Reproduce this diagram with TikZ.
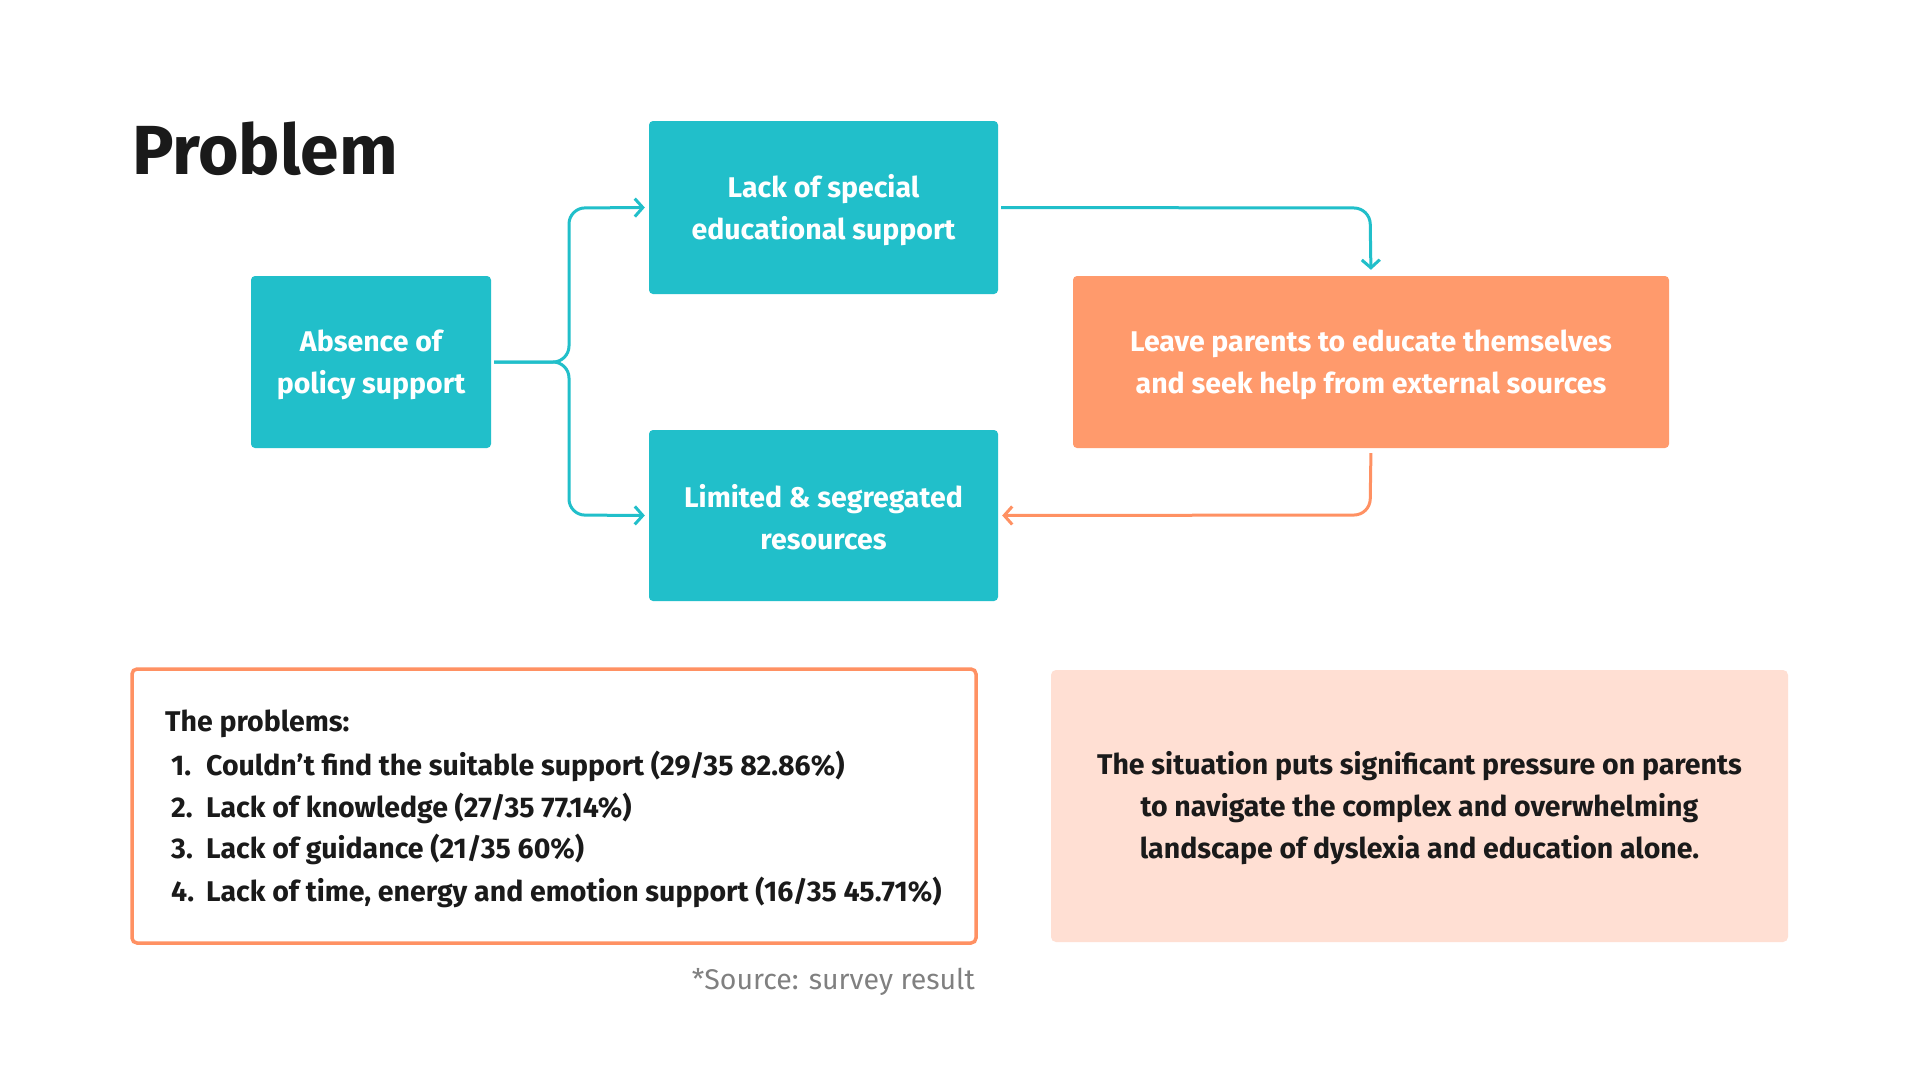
\documentclass[tikz,border=0pt]{standalone}
\usepackage{fontspec}
\setmainfont{Fira Sans}
\usetikzlibrary{arrows.meta}
\definecolor{teal}{HTML}{21BFCA}
\definecolor{orng}{HTML}{FF9A6C}
\definecolor{orngline}{HTML}{FF9163}
\definecolor{pinkbg}{HTML}{FFDFD3}
\definecolor{darktext}{HTML}{1A1A1A}
\definecolor{graytext}{HTML}{808080}
\newcommand{\boxfont}{\fontsize{28.5}{42}\selectfont\bfseries}
\newcommand{\numitem}[2]{\makebox[35pt][l]{#1}#2}
\tikzset{
  box/.style={rectangle, rounded corners=4pt, inner sep=0pt},
  boxtext/.style={inner sep=0pt, align=center, text=white, font=\boxfont},
  tealbox/.style={box, fill=teal},
  orngbox/.style={box, fill=orng},
  conn/.style={line width=3pt, rounded corners=16pt, -{Straight Barb[length=8pt,width=18pt,line width=3pt]}},
  body/.style={font=\boxfont, text=darktext, inner sep=0pt}
}
\begin{document}
\begin{tikzpicture}[x=1pt,y=-1pt]
\useasboundingbox (0,0) rectangle (1920,1080);
\fill[white] (0,0) rectangle (1920,1080);
\node[anchor=base west, inner sep=0pt, text=darktext, font=\fontsize{69.5}{80}\selectfont\bfseries] (title) at (132,174) {Problem};
\node[tealbox, minimum width=240pt, minimum height=172pt] (abs) at (371,362) {};
\node[boxtext] (abst) at (371,365) {Absence of\\policy support};
\node[tealbox, minimum width=349pt, minimum height=173pt] (lack) at (823.5,207.5) {};
\node[boxtext] (lackt) at (823.5,210.5) {Lack of special\\educational support};
\node[tealbox, minimum width=349pt, minimum height=171pt] (lim) at (823.5,515.5) {};
\node[boxtext] (limt) at (823.5,517.5) {Limited \& segregated\\resources};
\node[orngbox, minimum width=596pt, minimum height=172pt] (leave) at (1371,362) {};
\node[boxtext] (leavet) at (1371,365) {Leave parents to educate themselves\\and seek help from external sources};
\coordinate (j1) at (569,362);
\coordinate (cT) at (1370,208);
\coordinate (cB) at (1370,515);
\draw[conn, teal, shorten >=4pt, shorten <=3pt] (abs.east) -- (j1) -- (569,208) -- (lack.west);
\draw[conn, teal, shorten >=4pt, shorten <=3pt] (abs.east) -- (j1) -- (569,515) -- (lim.west);
\draw[conn, teal, shorten >=6pt, shorten <=3pt] (lack.east) -- (cT) -- (leave.north);
\draw[conn, orngline, shorten >=4pt, shorten <=5pt] (leave.south) -- (cB) -- (lim.east);
\node[draw=orngline, line width=3.5pt, rounded corners=5pt, minimum width=844pt, minimum height=274pt, inner sep=0pt] (probs) at (554,806) {};
\node[body, anchor=west] (p0) at (165,724) {The problems:};
\node[body, anchor=west] (p1) at (171,766) {\numitem{1.}{Couldn’t find the suitable support (29/35 82.86\%)}};
\node[body, anchor=west] (p2) at (171,808) {\numitem{2.}{Lack of knowledge (27/35 77.14\%)}};
\node[body, anchor=west] (p3) at (171,849) {\numitem{3.}{Lack of guidance (21/35 60\%)}};
\node[body, anchor=west] (p4) at (171,892) {\numitem{4.}{Lack of time, energy and emotion support (16/35 45.71\%)}};
\node[fill=pinkbg, rounded corners=5pt, minimum width=737pt, minimum height=272pt, inner sep=0pt] (pink) at (1419.5,806) {};
\node[body, align=center] (ptext) at (1419.5,808) {The situation puts significant pressure on parents\\to navigate the complex and overwhelming\\landscape of dyslexia and education alone.};
\node[anchor=east, inner sep=0pt, text=graytext, font=\fontsize{28.5}{30}\selectfont] (src) at (975,982) {*Source: survey result};
\end{tikzpicture}
\end{document}
